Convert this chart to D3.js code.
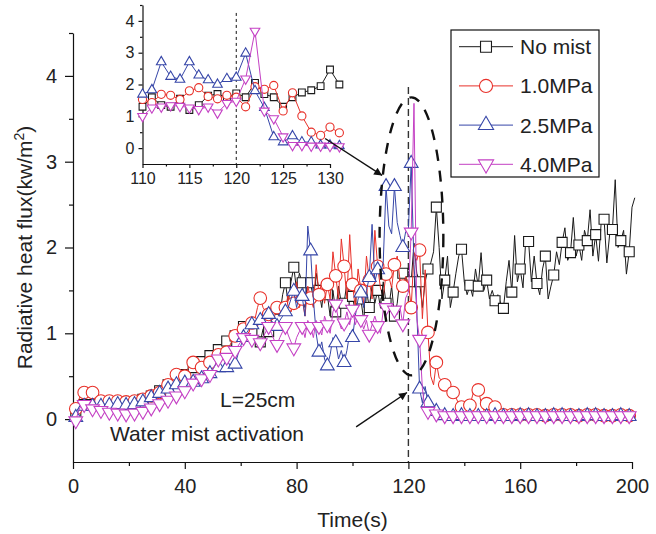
<!DOCTYPE html>
<html>
<head>
<meta charset="utf-8">
<script src="https://cdn.jsdelivr.net/npm/d3@7"></script>
<style>
  body { margin: 0; background: #fff; }
  svg { font-family: "Liberation Sans", Arial, sans-serif; }
</style>
</head>
<body>
<div class="chart"></div>
<script>
// Series names and colours
const seriesNames = ["No mist", "1.0MPa", "2.5MPa", "4.0MPa"];
const seriesColors = ["#1a1a1a", "#e8312a", "#3646a8", "#c440c4"];

// Time axis: one sample per second
const time = d3.range(0, 202);

// Radiative heat flux (kW/m2), one value per second
const noMist = [
  0.0,0.05,0.12,0.15,0.17,0.18,0.17,0.17,0.16,0.17,
  0.17,0.16,0.17,0.17,0.16,0.17,0.18,0.17,0.18,0.18,
  0.19,0.2,0.2,0.21,0.22,0.23,0.24,0.26,0.27,0.29,
  0.31,0.33,0.38,0.39,0.4,0.42,0.44,0.46,0.48,0.5,
  0.52,0.56,0.58,0.6,0.62,0.64,0.67,0.7,0.72,0.74,
  0.76,0.79,0.81,0.84,0.88,0.91,0.93,0.95,0.97,1.02,
  1.06,1.08,1.04,1.0,1.02,0.95,0.88,0.9,1.05,1.1,
  1.02,1.15,1.3,1.28,1.2,1.45,1.59,1.35,1.6,1.77,
  1.5,1.7,1.59,1.3,1.65,1.59,1.4,1.7,1.5,1.3,
  1.6,1.45,1.2,1.5,1.25,1.55,1.35,1.35,1.6,1.45,
  1.43,1.25,1.55,1.4,1.15,1.5,1.3,1.55,1.35,1.5,
  1.3,1.6,1.35,1.3,1.55,1.2,1.35,1.65,1.7,1.6,
  1.72,1.6,2.05,1.7,1.6,1.3,1.6,1.75,1.82,1.95,
  2.47,2.0,1.4,1.62,1.9,1.3,1.48,1.7,1.9,1.98,
  1.6,1.45,1.56,1.43,1.75,1.55,1.94,1.5,1.62,1.4,
  1.5,1.38,1.45,1.35,1.29,1.6,1.85,1.48,2.14,1.6,
  1.75,1.53,2.1,2.07,1.6,1.9,1.58,1.45,1.75,1.9,
  1.4,1.55,1.68,1.95,1.8,2.06,2.23,1.85,1.94,2.35,
  1.9,2.03,1.85,2.2,2.08,2.44,1.9,2.15,1.84,2.3,
  2.33,1.82,2.15,2.21,2.79,2.0,2.08,2.2,1.69,1.95,
  2.47,2.58
];

const mist10 = [
  0.0,0.12,0.22,0.3,0.31,0.25,0.28,0.31,0.24,0.22,
  0.21,0.22,0.21,0.21,0.2,0.21,0.21,0.2,0.2,0.2,
  0.21,0.21,0.21,0.22,0.22,0.23,0.25,0.26,0.27,0.28,
  0.3,0.31,0.34,0.38,0.4,0.45,0.5,0.52,0.5,0.49,
  0.5,0.58,0.63,0.66,0.62,0.6,0.6,0.63,0.65,0.66,
  0.7,0.73,0.75,0.76,0.77,0.78,0.85,0.92,0.97,1.0,
  1.03,1.05,1.08,1.1,1.12,1.15,1.3,1.41,1.3,1.25,
  1.22,1.18,1.25,1.3,1.2,1.35,1.3,1.45,1.25,1.35,
  1.6,1.3,1.4,1.2,1.55,1.41,1.3,1.8,1.45,1.6,
  1.35,1.57,1.4,1.95,1.67,1.4,2.1,1.78,1.4,2.15,
  1.57,1.3,1.75,1.5,1.35,1.9,1.62,1.4,2.2,1.78,
  1.53,1.43,1.69,1.66,1.53,1.8,1.9,1.62,1.55,1.66,
  1.6,1.3,1.93,1.85,1.97,1.17,1.74,1.01,0.5,0.4,
  0.66,0.48,0.45,0.4,0.35,0.33,0.31,0.25,0.18,0.14,
  0.2,0.15,0.16,0.28,0.38,0.34,0.2,0.1,0.18,0.12,
  0.1,0.14,0.08,0.06,0.05,0.05,0.04,0.05,0.05,0.04,
  0.05,0.05,0.04,0.05,0.04,0.05,0.05,0.04,0.05,0.04,
  0.05,0.04,0.05,0.05,0.04,0.05,0.04,0.05,0.05,0.04,
  0.05,0.04,0.05,0.04,0.05,0.05,0.04,0.05,0.04,0.05,
  0.04,0.05,0.05,0.04,0.05,0.04,0.05,0.04,0.05,0.04,
  0.04,0.04
];

const mist25 = [
  0.0,0.02,0.1,0.15,0.15,0.14,0.15,0.15,0.14,0.15,
  0.15,0.15,0.16,0.16,0.16,0.17,0.17,0.16,0.16,0.16,
  0.17,0.17,0.17,0.18,0.19,0.2,0.22,0.23,0.25,0.27,
  0.28,0.3,0.32,0.33,0.35,0.37,0.38,0.4,0.41,0.41,
  0.42,0.42,0.43,0.43,0.45,0.46,0.47,0.49,0.51,0.53,
  0.56,0.58,0.6,0.6,0.6,0.6,0.62,0.63,0.64,0.75,
  0.85,0.95,1.0,1.05,1.1,1.12,1.14,1.15,1.18,1.2,
  1.22,1.15,1.1,1.08,1.15,1.2,1.25,1.3,1.4,1.49,
  1.3,1.45,1.43,1.2,2.25,1.96,1.4,1.0,0.78,0.9,
  0.7,0.62,0.75,0.95,0.89,0.7,0.8,0.66,0.8,1.0,
  0.95,1.2,1.4,1.47,1.3,1.5,1.65,2.27,1.6,1.74,
  1.69,1.83,2.71,2.25,2.16,2.71,2.29,2.14,2.0,2.18,
  2.22,2.98,1.8,1.27,0.35,0.19,0.38,0.19,0.19,0.09,
  0.09,0.07,0.05,0.04,0.04,0.04,0.03,0.04,0.03,0.04,
  0.03,0.04,0.03,0.03,0.04,0.03,0.04,0.03,0.03,0.04,
  0.03,0.04,0.03,0.04,0.03,0.03,0.04,0.03,0.04,0.03,
  0.04,0.03,0.03,0.04,0.03,0.04,0.03,0.03,0.04,0.03,
  0.04,0.03,0.04,0.03,0.03,0.04,0.03,0.04,0.03,0.03,
  0.04,0.03,0.04,0.03,0.04,0.03,0.03,0.04,0.03,0.04,
  0.03,0.04,0.03,0.03,0.04,0.03,0.04,0.03,0.04,0.03,
  0.03,0.03
];

const mist40 = [
  -0.05,-0.02,0.1,0.16,0.17,0.14,0.12,0.12,0.11,0.1,
  0.1,0.09,0.09,0.08,0.08,0.07,0.07,0.07,0.06,0.06,
  0.06,0.07,0.07,0.08,0.08,0.09,0.1,0.12,0.13,0.15,
  0.16,0.18,0.2,0.21,0.22,0.24,0.26,0.27,0.29,0.31,
  0.33,0.36,0.39,0.42,0.44,0.46,0.47,0.49,0.51,0.52,
  0.58,0.64,0.7,0.71,0.71,0.72,0.75,0.78,0.8,0.85,
  0.9,0.95,0.94,0.93,0.93,0.92,0.9,0.89,0.95,1.02,
  1.08,1.0,0.92,0.87,0.95,1.02,1.08,0.98,0.9,0.83,
  0.95,1.02,1.08,0.95,1.15,1.08,0.95,1.15,1.08,0.98,
  1.2,1.1,1.0,1.25,1.34,1.15,1.05,1.12,1.25,1.1,
  1.28,1.1,1.2,1.16,1.05,1.15,0.99,1.1,1.2,1.09,
  1.0,1.27,1.3,1.34,1.32,1.27,1.22,1.3,1.11,1.41,
  1.48,2.18,3.68,1.17,0.93,0.36,0.09,0.09,0.07,0.07,
  0.06,0.05,0.04,0.04,0.04,0.04,0.04,0.04,0.04,0.04,
  0.04,0.04,0.04,0.04,0.04,0.04,0.04,0.04,0.04,0.04,
  0.04,0.04,0.04,0.04,0.04,0.04,0.04,0.04,0.04,0.04,
  0.04,0.04,0.04,0.04,0.04,0.04,0.04,0.04,0.04,0.04,
  0.04,0.04,0.04,0.04,0.04,0.04,0.04,0.04,0.04,0.04,
  0.04,0.04,0.04,0.04,0.04,0.04,0.04,0.04,0.04,0.04,
  0.04,0.04,0.04,0.04,0.04,0.04,0.04,0.04,0.04,0.04,
  0.04,0.04
];

// Tick values
const xTicks = [0, 40, 80, 120, 160, 200];
const xMinor = [20, 60, 100, 140, 180];
const yTicks = [0, 1, 2, 3, 4];
const yMinor = [0.5, 1.5, 2.5, 3.5, 4.5];
const insetXTicks = [110, 115, 120, 125, 130];
const insetXMinor = [112.5, 117.5, 122.5, 127.5];
const activationTime = 120;

const svgWidth = 656;
const svgHeight = 534;

const svg = d3.select(".chart")
    .append("svg")
    .attr("width", svgWidth)
    .attr("height", svgHeight);

// Arrow head
svg.append("defs").append("marker")
    .attr("id", "arrow")
    .attr("viewBox", "0 0 10 10")
    .attr("refX", 10)
    .attr("refY", 5)
    .attr("markerWidth", 11)
    .attr("markerHeight", 8)
    .attr("markerUnits", "userSpaceOnUse")
    .attr("orient", "auto")
    .append("path")
    .attr("d", "M0,0 L10,5 L0,10 Z")
    .attr("fill", "#111");

// Main scales
const x = d3.scaleLinear().domain([0, 200]).range([73, 632]);
const y = d3.scaleLinear().domain([-0.5, 4.5]).range([462, 33]);

// Inset scales
const xi = d3.scaleLinear().domain([110, 130]).range([142.5, 330]);
const yi = d3.scaleLinear().domain([-0.5, 4.5]).range([164, 5]);

const allSeries = [noMist, mist10, mist25, mist40];
const symbolTypes = [d3.symbolSquare, d3.symbolCircle, d3.symbolTriangle, d3.symbolTriangle];
const symbolRotate = [0, 0, 0, 180];
const mainSizes = [100, 125, 82, 82];
const insetSizes = [46, 52, 40, 40];
const legendSizes = [120, 135, 100, 100];

const intFormat = d3.format("d");

function styleAxis(g) {
    g.selectAll("path, line").attr("stroke", "#111").attr("stroke-width", 1.2);
    g.selectAll("text").attr("fill", "#222");
}

// ---- main axes ----
svg.append("g")
    .attr("transform", `translate(0, ${y(-0.5)})`)
    .call(d3.axisBottom(x).tickValues(xTicks).tickFormat(intFormat).tickSize(7).tickSizeOuter(0).tickPadding(10))
    .attr("font-size", 20)
    .call(styleAxis);
svg.append("g")
    .attr("transform", `translate(0, ${y(-0.5)})`)
    .call(d3.axisBottom(x).tickValues(xMinor).tickSize(4).tickFormat(""))
    .call(g => g.select(".domain").remove())
    .call(styleAxis);

svg.append("g")
    .attr("transform", `translate(${x(0)}, 0)`)
    .call(d3.axisLeft(y).tickValues(yTicks).tickFormat(intFormat).tickSize(8).tickSizeOuter(0).tickPadding(8))
    .attr("font-size", 20)
    .call(styleAxis);
svg.append("g")
    .attr("transform", `translate(${x(0)}, 0)`)
    .call(d3.axisLeft(y).tickValues(yMinor).tickSize(4).tickFormat(""))
    .call(g => g.select(".domain").remove())
    .call(styleAxis);

// axis titles
svg.append("text")
    .attr("x", (x(0) + x(200)) / 2)
    .attr("y", 527)
    .attr("text-anchor", "middle")
    .attr("font-size", 21)
    .attr("fill", "#222")
    .text("Time(s)");

const yTitle = svg.append("text")
    .attr("transform", `translate(32, ${(y(-0.5) + y(4.5)) / 2}) rotate(-90)`)
    .attr("text-anchor", "middle")
    .attr("font-size", 21)
    .attr("fill", "#222");
yTitle.append("tspan").text("Radiative heat flux(kw/m");
yTitle.append("tspan").attr("font-size", 14).attr("dy", -8).text("2");
yTitle.append("tspan").attr("dy", 8).text(")");

// ---- activation line ----
svg.append("line")
    .attr("x1", x(activationTime)).attr("x2", x(activationTime))
    .attr("y1", y(3.87)).attr("y2", y(-0.5))
    .attr("stroke", "#333")
    .attr("stroke-width", 1.4)
    .attr("stroke-dasharray", "7,4");

// ---- series ----
function drawSeries(g, xs, ys, data, i, sizes, markerEvery) {
    const pts = time.map((t, k) => [t, data[k]]).filter(d => xs.domain()[0] === 0 || (d[0] >= 110 && d[0] <= 131));
    const line = d3.line().x(d => xs(d[0])).y(d => ys(d[1]));
    g.append("path")
        .datum(pts)
        .attr("d", line)
        .attr("fill", "none")
        .attr("stroke", seriesColors[i])
        .attr("stroke-width", 1);
    const sym = d3.symbol().type(symbolTypes[i]).size(sizes[i]);
    g.selectAll(null)
        .data(pts.filter(d => markerEvery === 1 || d[0] % markerEvery === 1))
        .enter()
        .append("path")
        .attr("d", sym)
        .attr("transform", d => `translate(${xs(d[0])}, ${ys(d[1])}) rotate(${symbolRotate[i]})`)
        .attr("fill", "#fff")
        .attr("stroke", seriesColors[i])
        .attr("stroke-width", 1.1);
}

const mainG = svg.append("g");
allSeries.forEach((s, i) => drawSeries(mainG, x, y, s, i, mainSizes, 3));

// dashed ellipse around the activation peak
svg.append("ellipse")
    .attr("cx", x(121.1))
    .attr("cy", y(2.13))
    .attr("rx", x(121.1 + 11.4) - x(121.1))
    .attr("ry", y(2.13 - 1.62) - y(2.13))
    .attr("fill", "none")
    .attr("stroke", "#111")
    .attr("stroke-width", 2.4)
    .attr("stroke-dasharray", "11,10");

// ---- inset ----
const insetG = svg.append("g");
insetG.append("g")
    .attr("transform", `translate(0, ${yi(-0.5)})`)
    .call(d3.axisBottom(xi).tickValues(insetXTicks).tickFormat(intFormat).tickSize(4).tickSizeOuter(0).tickPadding(5))
    .attr("font-size", 16)
    .call(styleAxis);
insetG.append("g")
    .attr("transform", `translate(0, ${yi(-0.5)})`)
    .call(d3.axisBottom(xi).tickValues(insetXMinor).tickSize(2.5).tickFormat(""))
    .call(g => g.select(".domain").remove())
    .call(styleAxis);
insetG.append("g")
    .attr("transform", `translate(${xi(110)}, 0)`)
    .call(d3.axisLeft(yi).tickValues(yTicks).tickFormat(intFormat).tickSize(4).tickSizeOuter(0).tickPadding(4))
    .attr("font-size", 16)
    .call(styleAxis);
insetG.append("g")
    .attr("transform", `translate(${xi(110)}, 0)`)
    .call(d3.axisLeft(yi).tickValues(yMinor).tickSize(2.5).tickFormat(""))
    .call(g => g.select(".domain").remove())
    .call(styleAxis);
insetG.append("line")
    .attr("x1", xi(activationTime)).attr("x2", xi(activationTime))
    .attr("y1", yi(4.25)).attr("y2", yi(-0.5))
    .attr("stroke", "#111")
    .attr("stroke-width", 1)
    .attr("stroke-dasharray", "3,3");
allSeries.forEach((s, i) => drawSeries(insetG, xi, yi, s, i, insetSizes, 1));

// ---- arrows ----
svg.append("line")
    .attr("x1", x(90.2)).attr("y1", y(3.27))
    .attr("x2", x(110.6)).attr("y2", y(2.84))
    .attr("stroke", "#111").attr("stroke-width", 1.4)
    .attr("marker-end", "url(#arrow)");
svg.append("line")
    .attr("x1", x(101.3)).attr("y1", y(-0.09))
    .attr("x2", x(119.5)).attr("y2", y(0.31))
    .attr("stroke", "#111").attr("stroke-width", 1.4)
    .attr("marker-end", "url(#arrow)");

// ---- annotations ----
svg.append("text")
    .attr("x", x(52.6)).attr("y", y(0.14))
    .attr("font-size", 21).attr("fill", "#222")
    .text("L=25cm");
svg.append("text")
    .attr("x", x(13.2)).attr("y", y(-0.26))
    .attr("font-size", 21).attr("fill", "#222")
    .text("Water mist activation");

// ---- legend ----
const legend = svg.append("g");
legend.append("rect")
    .attr("x", 451).attr("y", 30)
    .attr("width", 148).attr("height", 147)
    .attr("fill", "#fff")
    .attr("stroke", "#111")
    .attr("stroke-width", 1.2);
seriesNames.forEach((name, i) => {
    const ly = 46.7 + i * 39.2;
    legend.append("line")
        .attr("x1", 459).attr("x2", 513)
        .attr("y1", ly).attr("y2", ly)
        .attr("stroke", seriesColors[i]).attr("stroke-width", 1);
    legend.append("path")
        .attr("d", d3.symbol().type(symbolTypes[i]).size(legendSizes[i]))
        .attr("transform", `translate(486, ${ly}) rotate(${symbolRotate[i]})`)
        .attr("fill", "#fff")
        .attr("stroke", seriesColors[i])
        .attr("stroke-width", 1.1);
    legend.append("text")
        .attr("x", 520).attr("y", ly)
        .attr("dy", "0.36em")
        .attr("font-size", 21)
        .attr("fill", "#222")
        .text(name);
});
</script>
</body>
</html>
